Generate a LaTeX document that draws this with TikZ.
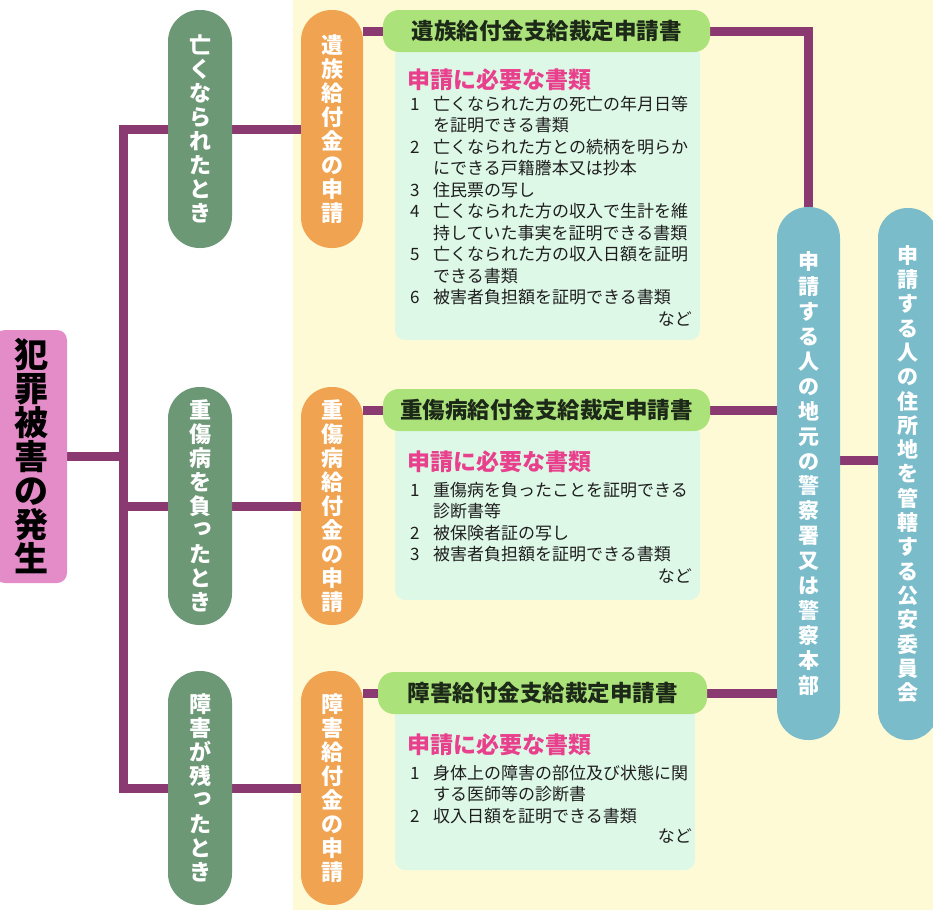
\documentclass[tikz,border=0pt]{standalone}
\usepackage{fontspec}
\setmainfont{Noto Sans CJK JP}
\usetikzlibrary{calc}
\definecolor{bgy}{RGB}{255,250,214}
\definecolor{mint}{RGB}{222,248,232}
\definecolor{linec}{RGB}{138,58,112}
\definecolor{gpc}{RGB}{108,152,118}
\definecolor{opc}{RGB}{240,163,80}
\definecolor{tpc}{RGB}{122,188,202}
\definecolor{pkc}{RGB}{228,140,200}
\definecolor{titc}{RGB}{172,226,122}
\definecolor{titt}{RGB}{28,40,24}
\definecolor{headc}{RGB}{232,64,140}
\definecolor{txtc}{RGB}{30,30,30}
\pgfdeclarelayer{bg}
\pgfdeclarelayer{ln}
\pgfsetlayers{bg,ln,main}
\newcommand\vsmallkana[1]{\makebox[1em][l]{\hspace{0.1em}\raisebox{0.2em}{#1}}}
\tikzset{
  vtext/.style={text=white, align=center, inner sep=0pt,
    font=\fontsize{22}{24}\selectfont\bfseries},
  gpill/.style={vtext, fill=gpc, minimum width=64pt, rounded corners=31.5pt},
  opill/.style={vtext, fill=opc, minimum width=62pt, rounded corners=30.5pt},
  tpill/.style={vtext, fill=tpc, minimum width=63pt, rounded corners=31pt},
  pinkbox/.style={fill=pkc, text=black, align=center, inner sep=0pt,
    minimum width=72pt, minimum height=253pt, rounded corners=10pt,
    font=\fontsize{34}{34}\selectfont\bfseries},
  titlebox/.style={fill=titc, rounded corners=16pt, minimum width=327pt,
    minimum height=42pt, inner sep=0pt, text=titt,
    font=\fontsize{22.5}{27}\selectfont\bfseries},
  headtext/.style={text=headc, inner sep=0pt, anchor=west,
    font=\fontsize{23}{27}\selectfont\bfseries},
  itemtext/.style={text=txtc, inner sep=0pt, anchor=north west, align=left,
    font=\fontsize{17}{21.5}\selectfont},
  natext/.style={text=txtc, inner sep=0pt, anchor=east,
    font=\fontsize{17}{21.5}\selectfont},
  conn/.style={draw=linec, line width=9pt, line join=miter},
}
\newcommand\num[1]{\makebox[23pt][l]{#1}}
\newcommand\ind{\hspace*{23pt}}
\begin{document}
\begin{tikzpicture}[x=1pt,y=-1pt]
\useasboundingbox (0,0) rectangle (933,910);
\begin{pgfonlayer}{bg}
  \fill[white] (0,0) rectangle (933,910);
  \fill[bgy] (293,0) rectangle (933,910);
  \fill[mint, rounded corners=10pt] (395,45) rectangle (700,340);
  \fill[mint, rounded corners=10pt] (395,425) rectangle (700,600);
  \fill[mint, rounded corners=10pt] (395,705) rectangle (695,870);
\end{pgfonlayer}

% left column
\node[pinkbox] (pk) at (31,456.5) {犯\\罪\\被\\害\\の\\発\\生};

\node[gpill, minimum height=238pt] (g1) at (200,129) {亡\\く\\な\\ら\\れ\\た\\と\\き};
\node[gpill, minimum height=238pt] (g2) at (200,506) {重\\傷\\病\\を\\負\\\vsmallkana{っ}\\た\\と\\き};
\node[gpill, minimum height=234pt] (g3) at (200,788) {障\\害\\が\\残\\\vsmallkana{っ}\\た\\と\\き};

\node[opill, minimum height=238pt] (o1) at (332,129) {遺\\族\\給\\付\\金\\の\\申\\請};
\node[opill, minimum height=238pt] (o2) at (332,506) {重\\傷\\病\\給\\付\\金\\の\\申\\請};
\node[opill, minimum height=234pt] (o3) at (332,788) {障\\害\\給\\付\\金\\の\\申\\請};

% titles
\node[titlebox] (t1) at (546.5,31) {遺族給付金支給裁定申請書};
\node[titlebox] (t2) at (546.5,410) {重傷病給付金支給裁定申請書};
\node[titlebox, minimum width=329pt] (t3) at (542.5,693) {障害給付金支給裁定申請書};

% document lists
\node[headtext] (h1) at (407,80) {申請に必要な書類};
\node[itemtext] (l1) at (410,95.6) {%
\num{1}亡くなられた方の死亡の年月日等\\
\ind を証明できる書類\\
\num{2}亡くなられた方との続柄を明らか\\
\ind にできる戸籍謄本又は抄本\\
\num{3}住民票の写し\\
\num{4}亡くなられた方の収入で生計を維\\
\ind 持していた事実を証明できる書類\\
\num{5}亡くなられた方の収入日額を証明\\
\ind できる書類\\
\num{6}被害者負担額を証明できる書類};
\node[natext] (n1) at (692,319) {など};

\node[headtext] (h2) at (407,462) {申請に必要な書類};
\node[itemtext] (l2) at (410,481.6) {%
\num{1}重傷病を負ったことを証明できる\\
\ind 診断書等\\
\num{2}被保険者証の写し\\
\num{3}被害者負担額を証明できる書類};
\node[natext] (n2) at (692,576) {など};

\node[headtext] (h3) at (407,745) {申請に必要な書類};
\node[itemtext] (l3) at (410,764.6) {%
\num{1}身体上の障害の部位及び状態に関\\
\ind する医師等の診断書\\
\num{2}収入日額を証明できる書類};
\node[natext] (n3) at (692,836) {など};

% right column
\node[tpill, minimum height=533pt, font=\fontsize{21}{24.9}\selectfont\bfseries] (pol) at (808.5,473.5)
  {申\\請\\す\\る\\人\\の\\地\\元\\の\\警\\察\\署\\又\\は\\警\\察\\本\\部};
\node[tpill, minimum width=60pt, rounded corners=29.5pt, minimum height=532pt, font=\fontsize{21}{24.3}\selectfont\bfseries] (rt) at (908,474)
  {申\\請\\す\\る\\人\\の\\住\\所\\地\\を\\管\\轄\\す\\る\\公\\安\\委\\員\\会};

% connectors
\coordinate (tt) at (123,129);
\coordinate (tb) at (123,788);
\coordinate (pr) at (860,460);
\begin{pgfonlayer}{ln}
  \draw[conn] (g1.west) -- (tt) -- (tb) -- (g3.west);
  \draw[conn] (pk.east) -- (pk.east -| tt);
  \draw[conn] (g2.west) -- (g2.west -| tt);
  \draw[conn] (g1.east) -- (o1.west);
  \draw[conn] (g2.east) -- (o2.west);
  \draw[conn] (g3.east) -- (o3.west);
  \draw[conn] (o1.east |- t1.west) -- (t1.west);
  \draw[conn] (o2.east |- t2.west) -- (t2.west);
  \draw[conn] (o3.east |- t3.west) -- (t3.west);
  \draw[conn] (t1.east) -| (pol.north);
  \draw[conn] (t2.east) -- (t2.east -| pol.west);
  \draw[conn] (t3.east) -- (t3.east -| pol.west);
  \draw[conn] (pr -| pol.east) -- (pr -| rt.west);
\end{pgfonlayer}
\end{tikzpicture}
\end{document}
